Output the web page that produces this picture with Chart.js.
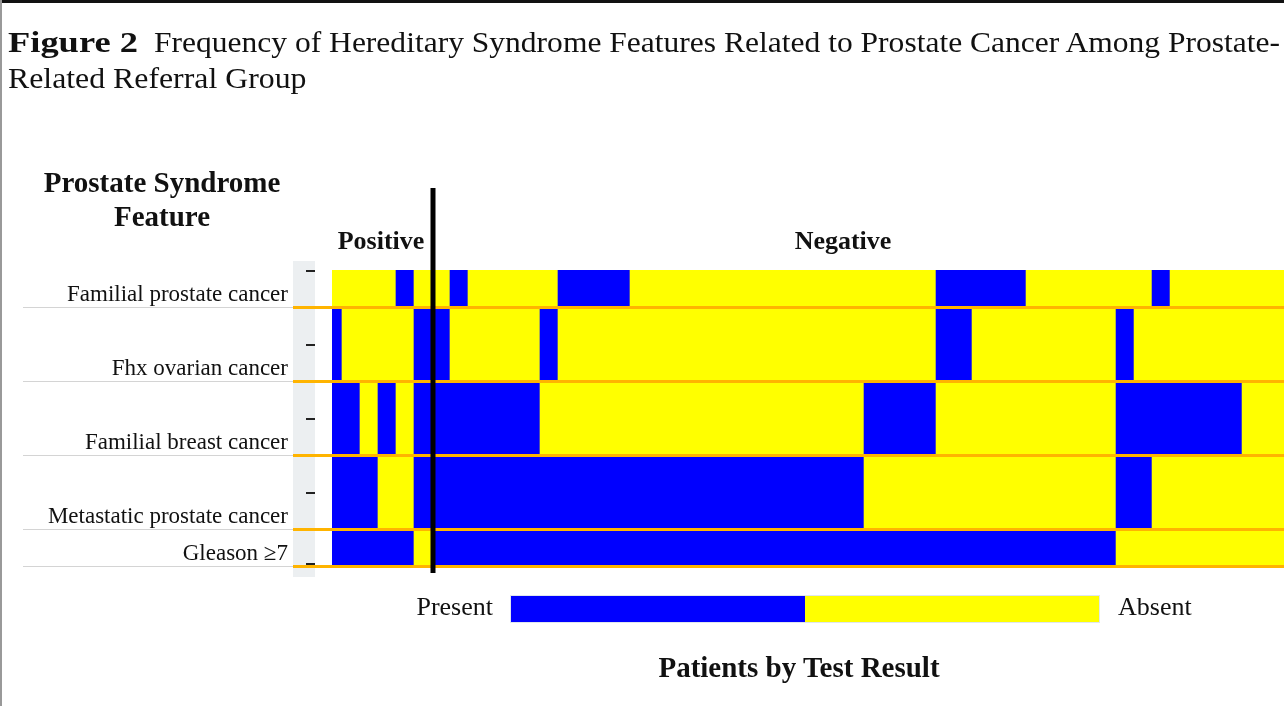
<!DOCTYPE html>
<html>
<head>
<meta charset="utf-8">
<script src="https://cdn.jsdelivr.net/npm/chart.js@4.4.1/dist/chart.umd.min.js"></script>
<style>
  body { margin: 0; width: 1284px; height: 706px; overflow: hidden; background: #fff; position: relative;
         font-family: "Liberation Serif", "Times New Roman", serif; color: #111; }
  .t { position: absolute; white-space: nowrap; }
  .b { font-weight: bold; }
  #heat { position: absolute; left: 0; top: 0; }
</style>
</head>
<body>
<canvas id="heat" width="1284" height="706"></canvas>

<div style="position:absolute;left:0;top:0;width:1284px;height:3px;background:#111"></div>
<div style="position:absolute;left:0;top:0;width:2px;height:706px;background:#999"></div>

<div class="t b" id="figNo" style="left:8px;top:24px;font-size:30px;line-height:36px;transform-origin:0 0">Figure 2</div>
<div class="t" id="title1" style="left:154px;top:24px;font-size:30px;line-height:36px;transform-origin:0 0">Frequency of Hereditary Syndrome Features Related to Prostate Cancer Among Prostate-</div>
<div class="t" id="title2" style="left:8px;top:60px;font-size:30px;line-height:36px;transform-origin:0 0">Related Referral Group</div>

<div class="t b" style="left:162px;top:165px;font-size:29px;line-height:34px;text-align:center;transform:translateX(-50%)">
  Prostate Syndrome<br>Feature
</div>
<div class="t b" id="posLabel" style="top:228px;font-size:26px;line-height:26px;transform:translateX(-50%)">Positive</div>
<div class="t b" id="negLabel" style="top:228px;font-size:26px;line-height:26px;transform:translateX(-50%)">Negative</div>
<div id="rowLabels"></div>

<div class="t" style="right:791px;top:594px;font-size:26px;line-height:26px">Present</div>
<div style="position:absolute;left:510px;top:595px;width:588px;height:26px;border:1px solid #dfe6ee;
            background:linear-gradient(to right,#0000ff 0,#0000ff 50%,#ffff00 50%,#ffff00 100%)"></div>
<div class="t" style="left:1118px;top:594px;font-size:26px;line-height:26px">Absent</div>
<div class="t b" style="left:799px;top:653px;font-size:29px;line-height:29px;transform:translateX(-50%)">Patients by Test Result</div>

<script>
// rows, top to bottom
const features = ['Familial prostate cancer', 'Fhx ovarian cancer', 'Familial breast cancer',
                  'Metastatic prostate cancer', 'Gleason \u22657'];

// one value per patient, 1 = present, 0 = absent (first 6 patients tested positive)
const positiveCount = 6;
const familialProstate = [0,0,0,0,1,0,0,1,0,0, 0,0,0,1,1,1,1,0,0,0, 0,0,0,0,0,0,0,0,0,0,
                          0,0,0,0,1,1,1,1,1,0, 0,0,0,0,0,0,1,0,0,0, 0,0,0,0];
const fhxOvarian       = [1,0,0,0,0,1,1,0,0,0, 0,0,1,0,0,0,0,0,0,0, 0,0,0,0,0,0,0,0,0,0,
                          0,0,0,0,1,1,0,0,0,0, 0,0,0,0,1,0,0,0,0,0, 0,0,0,0];
const familialBreast   = [1,1,0,1,0,1,1,1,1,1, 1,1,0,0,0,0,0,0,0,0, 0,0,0,0,0,0,0,0,0,0,
                          1,1,1,1,0,0,0,0,0,0, 0,0,0,0,1,1,1,1,1,1, 1,0,0,0];
const metastatic       = [1,1,1,0,0,1,1,1,1,1, 1,1,1,1,1,1,1,1,1,1, 1,1,1,1,1,1,1,1,1,1,
                          0,0,0,0,0,0,0,0,0,0, 0,0,0,0,1,1,0,0,0,0, 0,0,0,0];
const gleason          = [1,1,1,1,1,0,1,1,1,1, 1,1,1,1,1,1,1,1,1,1, 1,1,1,1,1,1,1,1,1,1,
                          1,1,1,1,1,1,1,1,1,1, 1,1,1,1,0,0,0,0,0,0, 0,0,0,0];

const rows = [familialProstate, fhxOvarian, familialBreast, metastatic, gleason];
const PRESENT = '#0000ff', ABSENT = '#ffff00';

const datasets = rows.map(function (vals, r) {
    return {
        label: features[r],
        data: vals.map((v, i) => ({ x: i, y: [r - 0.5, r + 0.5] })),
        backgroundColor: vals.map(v => v ? PRESENT : ABSENT),
        borderWidth: 0,
        barPercentage: 1,
        categoryPercentage: 1,
        grouped: false,
        clip: 0
    };
});

const decor = {
    id: 'decor',
    beforeDatasetsDraw(chart) {
        const ctx = chart.ctx, a = chart.chartArea;
        ctx.save();
        ctx.fillStyle = '#eceff1';
        ctx.fillRect(293, a.top - 9, 22, a.bottom - a.top + 20);
        ctx.restore();
    },
    afterDatasetsDraw(chart) {
        const ctx = chart.ctx, a = chart.chartArea;
        const x = chart.scales.x, y = chart.scales.y;
        ctx.save();
        // row separators
        const bounds = [0.5, 1.5, 2.5, 3.5, 4];
        bounds.forEach(function (b) {
            const py = Math.round(y.getPixelForValue(b)) + 0.5;
            ctx.strokeStyle = '#d4d4d4';
            ctx.lineWidth = 1;
            ctx.beginPath(); ctx.moveTo(23, py); ctx.lineTo(293, py); ctx.stroke();
            ctx.strokeStyle = '#ffb400';
            ctx.lineWidth = 3;
            ctx.beginPath(); ctx.moveTo(293, py); ctx.lineTo(a.right, py); ctx.stroke();
        });
        // tick dashes
        ctx.strokeStyle = '#222';
        ctx.lineWidth = 2;
        features.forEach(function (f, r) {
            const py = Math.round(y.getPixelForValue(r)) + (r === 4 ? -2 : 1);
            ctx.beginPath(); ctx.moveTo(306, py); ctx.lineTo(315, py); ctx.stroke();
        });
        // split between positive and negative patients
        const px = x.getPixelForValue(positiveCount - 0.5) + 1;
        ctx.strokeStyle = '#000';
        ctx.lineWidth = 5;
        ctx.beginPath(); ctx.moveTo(px, 188); ctx.lineTo(px, 573); ctx.stroke();
        ctx.restore();
    }
};

const chart = new Chart(document.getElementById('heat'), {
    type: 'bar',
    data: { datasets: datasets },
    options: {
        responsive: false,
        animation: false,
        events: [],
        layout: { padding: { left: 332, top: 270, right: 0, bottom: 140 } },
        scales: {
            x: { type: 'linear', offset: false, min: -0.055, max: 52.83, display: false },
            y: { type: 'linear', offset: false, min: 0, max: 4, reverse: true, display: false }
        },
        plugins: { legend: { display: false }, tooltip: { enabled: false } }
    },
    plugins: [decor]
});

// labels placed from the chart scales
const ys = chart.scales.y, xs = chart.scales.x;
const holder = document.getElementById('rowLabels');
features.forEach(function (f, r) {
    const bottom = ys.getPixelForValue(Math.min(r + 0.5, 4));
    const d = document.createElement('div');
    d.className = 't';
    d.style.cssText = 'right:' + (1284 - 288) + 'px;top:' + Math.round(bottom - 25) +
                      'px;font-size:23px;line-height:23px;text-align:right';
    d.textContent = f;
    holder.appendChild(d);
});
document.getElementById('posLabel').style.left = (xs.getPixelForValue((positiveCount - 1) / 2) + 3) + 'px';
document.getElementById('negLabel').style.left = '843px';

// the source figure's title is set slightly wide; stretch it to the same span
function stretch(id, w) {
    const el = document.getElementById(id);
    el.style.transform = 'scaleX(' + (w / el.offsetWidth).toFixed(3) + ')';
}
stretch('figNo', 130);
stretch('title1', 1126);
stretch('title2', 299);
</script>
</body>
</html>
